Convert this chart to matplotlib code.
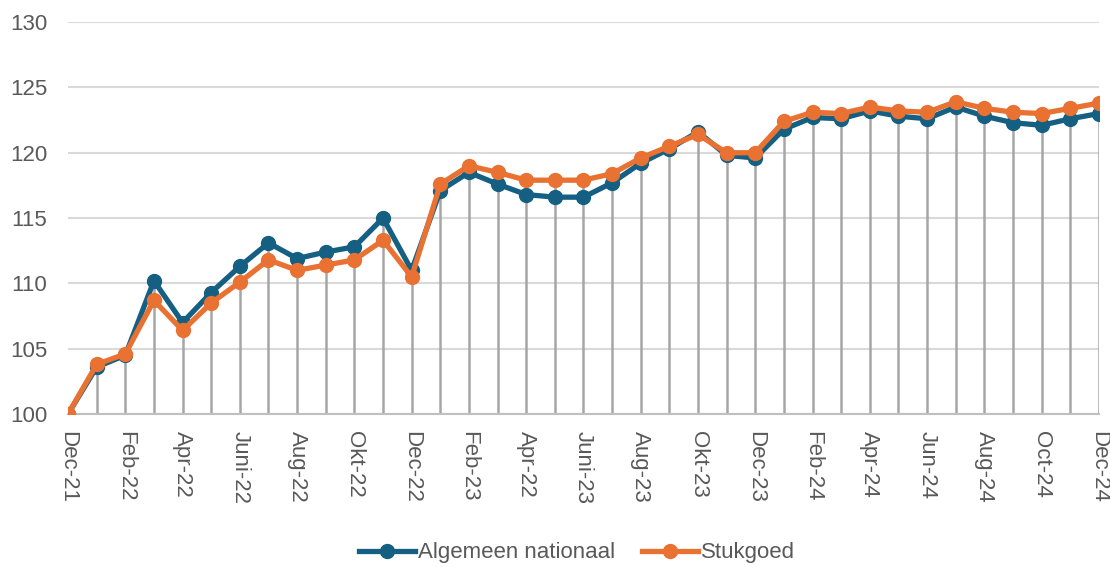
import numpy as np
import matplotlib.pyplot as plt

# Monthly index, Dec-21 = 100
months = ['Dec-21', 'Jan-22', 'Feb-22', 'Mar-22', 'Apr-22', 'May-22', 'Juni-22', 'Jul-22',
          'Aug-22', 'Sep-22', 'Okt-22', 'Nov-22', 'Dec-22', 'Jan-23', 'Feb-23', 'Mar-23',
          'Apr-22', 'May-23', 'Juni-23', 'Jul-23', 'Aug-23', 'Sep-23', 'Okt-23', 'Nov-23',
          'Dec-23', 'Jan-24', 'Feb-24', 'Mar-24', 'Apr-24', 'May-24', 'Jun-24', 'Jul-24',
          'Aug-24', 'Sep-24', 'Oct-24', 'Nov-24', 'Dec-24']

algemeen = [100.0, 103.6, 104.5, 110.2, 107.0, 109.3, 111.3, 113.1, 111.9, 112.4, 112.8, 115.0,
            111.0, 117.1, 118.5, 117.6, 116.8, 116.6, 116.6, 117.7, 119.2, 120.3, 121.6, 119.8,
            119.6, 121.8, 122.7, 122.6, 123.2, 122.8, 122.6, 123.5, 122.8, 122.3, 122.1, 122.6, 123.0]

stukgoed = [100.0, 103.8, 104.6, 108.7, 106.4, 108.5, 110.1, 111.8, 111.0, 111.4, 111.8, 113.3,
            110.5, 117.6, 119.0, 118.5, 117.9, 117.9, 117.9, 118.4, 119.6, 120.5, 121.4, 120.0,
            120.0, 122.4, 123.1, 123.0, 123.5, 123.2, 123.1, 123.9, 123.4, 123.1, 123.0, 123.4, 123.8]

blue = '#156082'
orange = '#E97132'
txt = '#595959'

plt.rcParams['font.family'] = ['Liberation Sans', 'DejaVu Sans']

x = np.arange(len(months))
a = np.array(algemeen)
s = np.array(stukgoed)

fig = plt.figure(figsize=(11.1, 5.67), dpi=100)
ax = fig.add_axes([0.0613, 0.2698, 0.9287, 0.6912])

# drop lines
ax.vlines(x, 100, np.maximum(a, s), color='#A6A6A6', lw=1.8, zorder=1)

ax.plot(x, a, color=blue, lw=3.8, marker='o', ms=10, zorder=3, label='Algemeen nationaal')
ax.plot(x, s, color=orange, lw=3.8, marker='o', ms=10, zorder=4, label='Stukgoed')

ax.set_xlim(0, len(months) - 1)
ax.set_ylim(100, 130)
ax.set_yticks(np.arange(100, 131, 5))
ax.yaxis.grid(True, color='#D9D9D9', lw=1.5, zorder=0)
ax.set_axisbelow(True)

ax.set_xticks(x[::2])
ax.set_xticklabels(months[::2], rotation=270, fontsize=16, color=txt)
ax.tick_params(axis='x', length=0, pad=12)
ax.tick_params(axis='y', length=0, pad=15, labelsize=16, labelcolor=txt)

for side in ['left', 'right', 'top']:
    ax.spines[side].set_visible(False)
ax.spines['bottom'].set_color('#BFBFBF')
ax.spines['bottom'].set_linewidth(1.5)

fig.legend(loc='center', bbox_to_anchor=(0.52, 0.025), ncol=2, frameon=False,
           fontsize=16, labelcolor=txt, handlelength=2.5, handletextpad=0.15, columnspacing=1.2)

plt.savefig('out.png', dpi=100)
